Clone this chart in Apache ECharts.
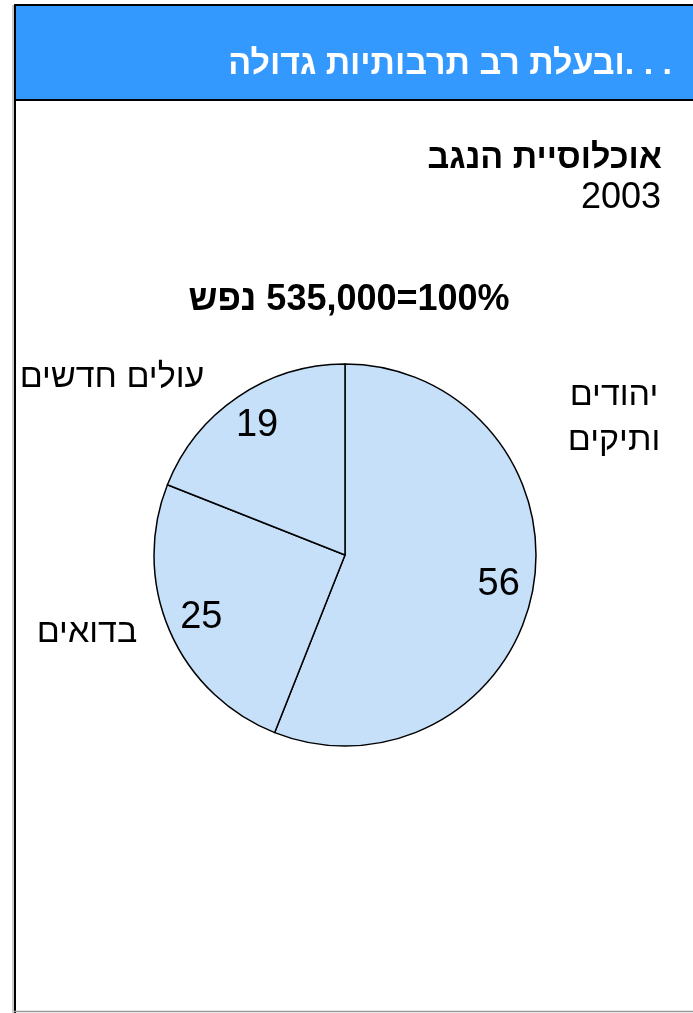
<!DOCTYPE html>
<html>
<head>
<meta charset="utf-8">
<script src="https://cdn.jsdelivr.net/npm/echarts@6/dist/echarts.min.js"></script>
<style>
html,body{margin:0;padding:0;background:#fff;}
#c{width:693px;height:1013px;}
</style>
</head>
<body>
<div id="c"></div>
<script>
// ---- data ----
var categories = ['יהודים\nותיקים', 'בדואים', 'עולים חדשים'];
var values = [56, 25, 19];
var headerText = 'ובעלת רב תרבותיות גדולה. . .';
var titleText = 'אוכלוסיית הנגב';
var yearText = '2003';
var totalText = 'נפש \u200E535,000=100%';

// ---- layout (not data) ----
var namePos = [[614, 418], [87, 633], [112, 378]];
var FONT = '"Liberation Sans", Arial, "DejaVu Sans", sans-serif';

var chart = echarts.init(document.getElementById('c'), null, {renderer: 'canvas'});
var pieData = categories.map(function (c, i) { return {name: c, value: values[i]}; });

chart.setOption({
  animation: false,
  backgroundColor: '#ffffff',
  graphic: [
    {type: 'line', shape: {x1: 13, y1: 5, x2: 13, y2: 1013}, style: {stroke: '#999', lineWidth: 1}, z: 1},
    {type: 'line', shape: {x1: 15, y1: 5, x2: 15, y2: 1013}, style: {stroke: '#000', lineWidth: 2}, z: 2},
    {type: 'line', shape: {x1: 14, y1: 1011.5, x2: 693, y2: 1011.5}, style: {stroke: '#999', lineWidth: 1.5}, z: 2},
    {type: 'rect', shape: {x: 15, y: 5, width: 700, height: 95}, style: {fill: '#3399ff', stroke: '#000', lineWidth: 2}, z: 3},
    {type: 'text', x: 672, y: 65, style: {text: headerText, fill: '#fff', font: 'bold 34px ' + FONT, textAlign: 'right', textVerticalAlign: 'middle'}, z: 4},
    {type: 'text', x: 662, y: 159, style: {text: titleText, fill: '#000', font: 'bold 34px ' + FONT, textAlign: 'right', textVerticalAlign: 'middle'}, z: 4},
    {type: 'text', x: 661, y: 198, style: {text: yearText, fill: '#000', font: '36px ' + FONT, textAlign: 'right', textVerticalAlign: 'middle'}, z: 4},
    {type: 'text', x: 349, y: 300, style: {text: totalText, fill: '#000', font: 'bold 36px ' + FONT, textAlign: 'center', textVerticalAlign: 'middle'}, z: 4}
  ],
  series: [
    {
      type: 'pie',
      center: [345, 555],
      radius: [0, 191],
      startAngle: 90,
      clockwise: true,
      silent: true,
      avoidLabelOverlap: false,
      itemStyle: {color: '#c6e0fa', borderColor: '#000', borderWidth: 1.5},
      emphasis: {disabled: true},
      label: {show: true, position: 'outside', formatter: '{b}', color: '#000', fontFamily: FONT, fontSize: 34, lineHeight: 45, align: 'center', overflow: 'none', width: 300},
      labelLine: {show: false},
      labelLayout: function (p) {
        var pos = namePos[p.dataIndex];
        return {x: pos[0], y: pos[1], align: 'center', verticalAlign: 'middle'};
      },
      data: pieData
    },
    {
      type: 'pie',
      center: [345, 555],
      radius: [116, 191],
      startAngle: 90,
      clockwise: true,
      silent: true,
      itemStyle: {color: 'rgba(0,0,0,0)', borderWidth: 0},
      emphasis: {disabled: true},
      label: {show: true, position: 'inside', formatter: '{c}', color: '#000', fontFamily: FONT, fontSize: 38},
      labelLine: {show: false},
      data: pieData
    }
  ]
});
</script>
</body>
</html>
